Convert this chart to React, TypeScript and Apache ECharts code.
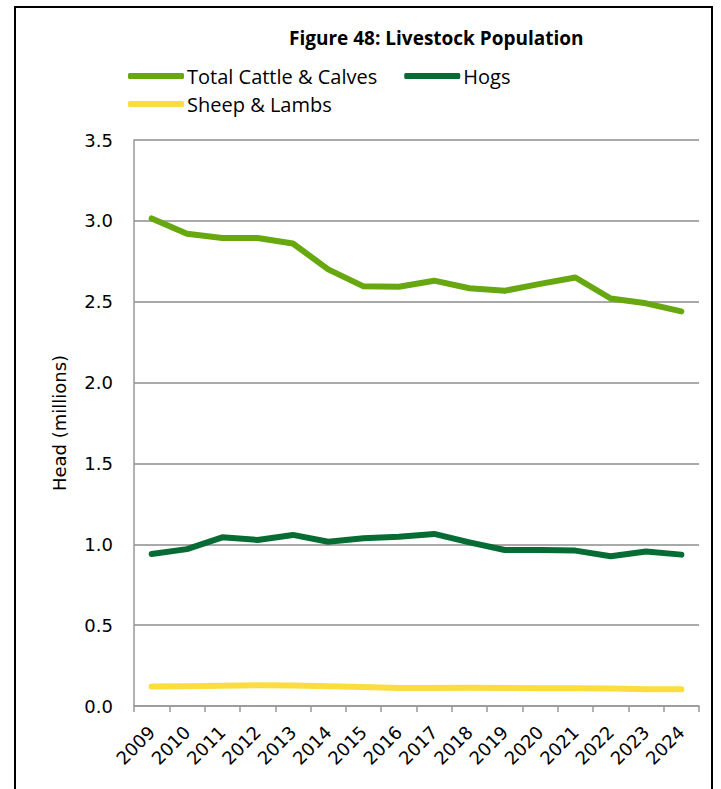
import React, { useEffect, useRef } from "react";
import * as echarts from "echarts";

const years = ["2009","2010","2011","2012","2013","2014","2015","2016","2017","2018","2019","2020","2021","2022","2023","2024"];
const cattle = [3.015, 2.92, 2.894, 2.894, 2.86, 2.70, 2.595, 2.593, 2.63, 2.583, 2.568, 2.61, 2.65, 2.52, 2.49, 2.44];
const hogs = [0.94, 0.97, 1.043, 1.027, 1.058, 1.016, 1.037, 1.047, 1.064, 1.012, 0.965, 0.965, 0.961, 0.926, 0.955, 0.936];
const sheep = [0.12, 0.122, 0.125, 0.128, 0.127, 0.122, 0.118, 0.112, 0.111, 0.113, 0.111, 0.110, 0.109, 0.108, 0.103, 0.103];
const seriesNames = ["Total Cattle & Calves", "Hogs", "Sheep & Lambs"];
const colors = ["#67a811", "#076b34", "#fcdd3f"];

const legendFont = "'Open Sans', Roboto, sans-serif";
const axisFont = "'DejaVu Sans', 'Liberation Sans', sans-serif";

export default function App() {
  const ref = useRef<HTMLDivElement>(null);
  useEffect(() => {
    const chart = echarts.init(ref.current!, null, { renderer: "svg" });
    const mk = (i: number, data: number[]) => ({
      name: seriesNames[i],
      type: "line",
      data,
      symbol: "none",
      lineStyle: { color: colors[i], width: 6, cap: "round", join: "round" },
      itemStyle: { color: colors[i] },
      z: 3 - i,
    });
    const legendCommon = {
      itemWidth: 56,
      itemHeight: 6,
      itemGap: 27,
      padding: 0,
      icon: "roundRect",
      textStyle: { fontFamily: legendFont, fontSize: 20, lineHeight: 20, color: "#000", padding: [0, 0, 0, -2] },
    };
    chart.setOption({
      animation: false,
      backgroundColor: "#fff",
      title: {
        text: "Figure 48: Livestock Population",
        left: 289,
        top: 28,
        padding: 0,
        textStyle: { fontFamily: legendFont, fontWeight: "bold", fontSize: 19, color: "#000" },
      },
      legend: [
        { ...legendCommon, data: [seriesNames[0], seriesNames[1]], left: 128, top: 66 },
        { ...legendCommon, data: [seriesNames[2]], left: 128, top: 94 },
      ],
      grid: { left: 134, right: 22, top: 140, bottom: 83, containLabel: false },
      xAxis: {
        type: "category",
        data: years,
        boundaryGap: true,
        axisLine: { lineStyle: { color: "#999", width: 1.5 } },
        axisTick: { show: true, length: 6, lineStyle: { color: "#999", width: 1.5 } },
        axisLabel: { rotate: 45, fontFamily: axisFont, fontSize: 18, color: "#000", margin: 23, interval: 0 },
      },
      yAxis: {
        type: "value",
        min: 0,
        max: 3.5,
        interval: 0.5,
        name: "Head (millions)",
        nameLocation: "middle",
        nameGap: 66,
        nameTextStyle: { fontFamily: axisFont, fontSize: 18, color: "#000" },
        axisLine: { show: true, lineStyle: { color: "#999", width: 1.5 } },
        axisTick: { show: false },
        axisLabel: { fontFamily: axisFont, fontSize: 18, color: "#000", margin: 21, formatter: (v: number) => v.toFixed(1) },
        splitLine: { lineStyle: { color: "#8c8c8c", width: 1.5 } },
      },
      graphic: [
        {
          type: "rect",
          shape: { x: 15, y: 7, width: 697, height: 800 },
          style: { fill: "none", stroke: "#000", lineWidth: 2 },
          z: 10,
        },
      ],
      series: [mk(0, cattle), mk(1, hogs), mk(2, sheep)],
    });
    return () => chart.dispose();
  }, []);
  return <div ref={ref} style={{ position: "fixed", left: 0, top: 0, width: 721, height: 789 }} />;
}
